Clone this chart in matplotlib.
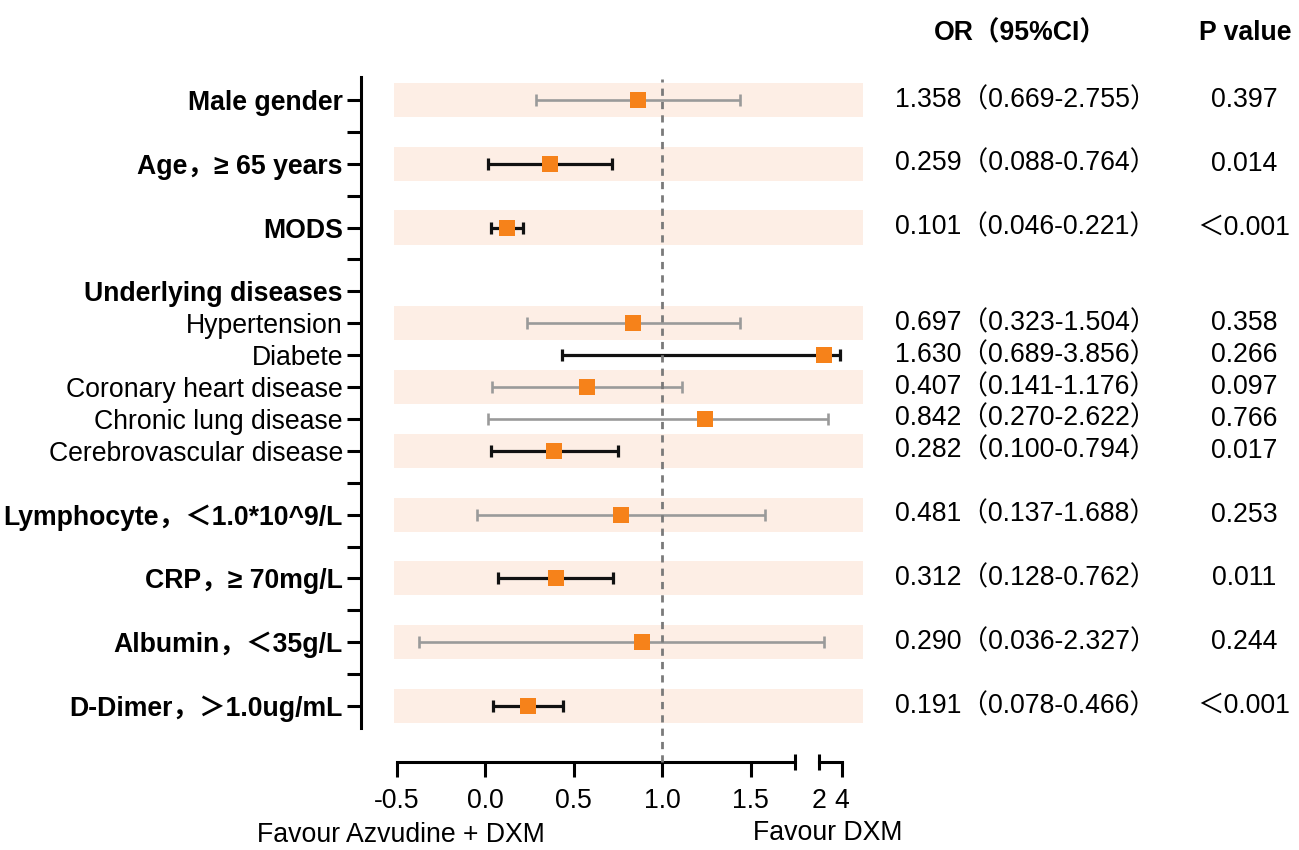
import numpy as np
import matplotlib
matplotlib.use("Agg")
import matplotlib.pyplot as plt
from matplotlib.ticker import FixedLocator, FixedFormatter, NullLocator, NullFormatter
from matplotlib.transforms import blended_transform_factory

plt.rcParams['font.family'] = ['Liberation Sans', 'Noto Sans CJK SC', 'DejaVu Sans']

# ---------------- data ----------------
row_labels = ["Male gender", "", "Age，≥ 65 years", "", "MODS", "",
              "Underlying diseases", "Hypertension", "Diabete",
              "Coronary heart disease", "Chronic lung disease",
              "Cerebrovascular disease", "", "Lymphocyte，＜1.0*10^9/L", "",
              "CRP，≥ 70mg/L", "", "Albumin，＜35g/L", "", "D-Dimer，＞1.0ug/mL"]
row_bold = [True, False, True, False, True, False, True, False, False, False,
            False, False, False, True, False, True, False, True, False, True]
band_rows = [0, 2, 4, 7, 9, 11, 13, 15, 17, 19]

factor_rows = [0, 2, 4, 7, 8, 9, 10, 11, 13, 15, 17, 19]
est     = [0.862, 0.369, 0.122, 0.838, 2.38, 0.574, 1.243, 0.390, 0.767, 0.399, 0.885, 0.245]
ci_low  = [0.286, 0.019, 0.032, 0.237, 0.433, 0.038, 0.015, 0.032, -0.047, 0.075, -0.371, 0.047]
ci_high = [1.437, 0.719, 0.213, 1.441, 3.81, 1.111, 2.75, 0.750, 1.582, 0.725, 2.45, 0.442]
significant = [False, True, True, False, True, False, False, True, False, True, False, True]
or_text = ["1.358（0.669-2.755）", "0.259（0.088-0.764）", "0.101（0.046-0.221）",
           "0.697（0.323-1.504）", "1.630（0.689-3.856）", "0.407（0.141-1.176）",
           "0.842（0.270-2.622）", "0.282（0.100-0.794）", "0.481（0.137-1.688）",
           "0.312（0.128-0.762）", "0.290（0.036-2.327）", "0.191（0.078-0.466）"]
p_text = ["0.397", "0.014", "＜0.001", "0.358", "0.266", "0.097", "0.766",
          "0.017", "0.253", "0.011", "0.244", "＜0.001"]

xticks_a = [-0.5, 0.0, 0.5, 1.0, 1.5]
xticklabels_a = ["-0.5", "0.0", "0.5", "1.0", "1.5"]
xticks_b = [2, 4]
xticklabels_b = ["2", "4"]

# ---------------- broken x scale ----------------
B1, B2 = 1.75, 2.0
GAP = 24.3 / 177.0
K = 11.2 / 177.0


def fwd(v):
    v = np.asarray(v, dtype=float)
    return np.where(v <= B1, v,
                    np.where(v < B2, B1 + (v - B1) * GAP / (B2 - B1),
                             B1 + GAP + (v - B2) * K))


def inv(u):
    u = np.asarray(u, dtype=float)
    return np.where(u <= B1, u,
                    np.where(u < B1 + GAP, B1 + (u - B1) * (B2 - B1) / GAP,
                             B2 + (u - B1 - GAP) / K))


FS = 19.2
W, H = 1299, 850
fig = plt.figure(figsize=(W / 100, H / 100), dpi=100)
L, R, T, Bm = 361, 863, 77, 728
rect = [L / W, 1 - Bm / H, (R - L) / W, (Bm - T) / H]
ax = fig.add_axes(rect)
ax.set_xscale('function', functions=(fwd, inv))
XMIN, XMAX = -0.7006, 5.9
ax.set_xlim(XMIN, XMAX)
ax.set_ylim(19.69, -0.72)

# bands
band_left = -0.514
ax.barh(band_rows, [XMAX - band_left] * len(band_rows), left=band_left,
        height=1.07, color='#FDEEE5', edgecolor='none', zorder=0)

# reference line
ax.axvline(1.0, ymin=-(762 - 728) / (Bm - T), ymax=0.997, color='#7a7a7a',
           lw=2, dashes=(2.6, 2.2), clip_on=False, zorder=3)

# error bars
for sig_flag, col, lw in [(False, '#9a9a9a', 1.9), (True, '#111111', 2.3)]:
    idx = [i for i, s in enumerate(significant) if s == sig_flag]
    x = np.array([est[i] for i in idx])
    y = np.array([factor_rows[i] for i in idx])
    lo = np.array([ci_low[i] for i in idx])
    hi = np.array([ci_high[i] for i in idx])
    ax.errorbar(x, y, xerr=[x - lo, hi - x], fmt='none', ecolor=col,
                elinewidth=lw, capsize=4.5, capthick=lw, zorder=2)

ax.plot(est, factor_rows, linestyle='none', marker='s', markersize=11,
        color='#F6821A', markeredgewidth=0, zorder=4)

# spines and ticks
for s in ['top', 'right']:
    ax.spines[s].set_visible(False)
ax.spines['left'].set_linewidth(2.2)
ax.spines['bottom'].set_linewidth(2.2)
ax.spines['bottom'].set_position(('outward', 24.5))
ax.spines['bottom'].set_bounds(-0.5, 1.75)

ax.yaxis.set_major_locator(FixedLocator(list(range(len(row_labels)))))
ax.yaxis.set_major_formatter(FixedFormatter(row_labels))
ax.tick_params(axis='y', which='major', direction='out', length=10, width=2.2,
               pad=3, labelsize=FS)
for lab, b in zip(ax.get_yticklabels(), row_bold):
    lab.set_fontweight('bold' if b else 'normal')

ax.xaxis.set_major_locator(FixedLocator(xticks_a))
ax.xaxis.set_major_formatter(FixedFormatter(xticklabels_a))
ax.xaxis.set_minor_locator(FixedLocator([1.75]))
ax.xaxis.set_minor_formatter(NullFormatter())
ax.tick_params(axis='x', which='major', direction='out', length=10.5, width=2.2,
               pad=8, labelsize=FS)
ax.tick_params(axis='x', which='minor', direction='inout', length=11.5, width=2.2)

# second axis segment
ax2 = fig.add_axes(rect)
ax2.set_xscale('function', functions=(fwd, inv))
ax2.set_xlim(XMIN, XMAX)
ax2.patch.set_visible(False)
for s in ['top', 'right', 'left']:
    ax2.spines[s].set_visible(False)
ax2.yaxis.set_major_locator(NullLocator())
ax2.spines['bottom'].set_linewidth(2.2)
ax2.spines['bottom'].set_position(('outward', 24.5))
ax2.spines['bottom'].set_bounds(2, 4)
ax2.xaxis.set_major_locator(FixedLocator([xticks_b[1]]))
ax2.xaxis.set_major_formatter(FixedFormatter([xticklabels_b[1]]))
ax2.xaxis.set_minor_locator(FixedLocator([xticks_b[0]]))
ax2.xaxis.set_minor_formatter(FixedFormatter([xticklabels_b[0]]))
ax2.tick_params(axis='x', which='major', direction='out', length=10.5, width=2.2,
                pad=8, labelsize=FS)
ax2.tick_params(axis='x', which='minor', direction='inout', length=11.5, width=2.2,
                pad=8 + 10.5 - 5.75, labelsize=FS)

# right-hand table
tr = blended_transform_factory(fig.transFigure, ax.transData)
for r, o, p in zip(factor_rows, or_text, p_text):
    ax.text(895 / W, r, o, transform=tr, ha='left', va='center', fontsize=FS)
    ax.text(1244 / W, r, p, transform=tr, ha='center', va='center', fontsize=FS)

fig.text(1020 / W, 1 - 33 / H, "OR（95%CI）", ha='center', va='center',
         fontsize=FS, fontweight='bold')
fig.text(1245 / W, 1 - 33 / H, "P value", ha='center', va='center',
         fontsize=FS, fontweight='bold')

fig.text(401 / W, 1 - 835 / H, "Favour Azvudine + DXM", ha='center', va='center',
         fontsize=FS)
fig.text(828 / W, 1 - 833 / H, "Favour DXM", ha='center', va='center',
         fontsize=FS)

fig.savefig("out.png", dpi=100)
